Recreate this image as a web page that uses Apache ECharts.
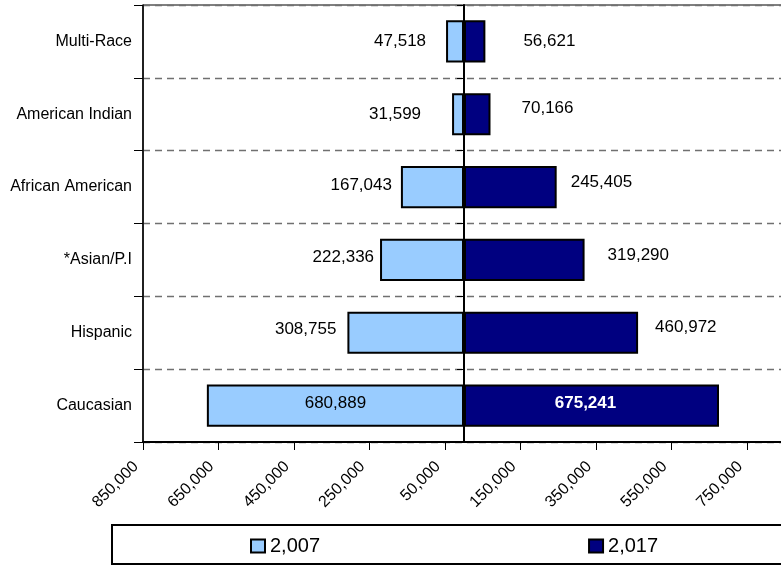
<!DOCTYPE html>
<html>
<head>
<meta charset="utf-8">
<script src="https://cdn.jsdelivr.net/npm/echarts@6/dist/echarts.min.js"></script>
<style>
  html, body { margin: 0; padding: 0; background: #ffffff; }
  #chart { width: 781px; height: 565px; }
</style>
</head>
<body>
<div id="chart"></div>
<script>
// Population by race/ethnicity, 2007 (left) vs 2017 (right)
const categories = ['Caucasian', 'Hispanic', '*Asian/P.I', 'African American', 'American Indian', 'Multi-Race'];
const values2007 = [680889, 308755, 222336, 167043, 31599, 47518];
const values2017 = [675241, 460972, 319290, 245405, 70166, 56621];
const seriesNames = ['2,007', '2,017'];

// Value axis range: ticks run from the left end every 200,000
const axisMin = -850000;
const axisMax = 850000;
const axisStep = 200000;

const FONT = '"Liberation Sans", Arial, sans-serif';

function fmt(v) {
  return String(Math.round(Math.abs(v))).replace(/\B(?=(\d{3})+(?!\d))/g, ',');
}

// Label placement per bar (same order as categories)
const leftLabelStyle = [
  { position: 'inside', offset: [0, -2] },
  { position: 'left', distance: 11, offset: [0, -3] },
  { position: 'left', distance: 6, offset: [0, -3] },
  { position: 'left', distance: 9, offset: [0, -2] },
  { position: 'left', distance: 31, offset: [0, 0] },
  { position: 'left', distance: 20, offset: [0, 0] }
];
const rightLabelStyle = [
  { position: 'inside', offset: [-6, -2], color: '#ffffff', fontWeight: 'bold' },
  { position: 'right', distance: 17, offset: [0, -5] },
  { position: 'right', distance: 23, offset: [0, -5] },
  { position: 'right', distance: 14, offset: [0, -5] },
  { position: 'right', distance: 31, offset: [0, -6] },
  { position: 'right', distance: 38, offset: [0, 0] }
];

const leftData = values2007.map((v, i) => ({
  value: -v,
  label: Object.assign({}, leftLabelStyle[i])
}));
const rightData = values2017.map((v, i) => ({
  value: v,
  label: Object.assign({}, rightLabelStyle[i])
}));

const chart = echarts.init(document.getElementById('chart'), null, { renderer: 'canvas' });

chart.setOption({
  animation: false,
  backgroundColor: '#ffffff',
  textStyle: { fontFamily: FONT },
  grid: {
    left: 143,
    top: 5,
    width: 642,
    height: 437,
    outerBoundsMode: 'none',
    containLabel: false,
    show: true,
    borderColor: '#000000',
    borderWidth: 1
  },
  legend: {
    data: seriesNames,
    left: 250,
    top: 536,
    padding: 0,
    icon: 'rect',
    itemWidth: 14,
    itemHeight: 13,
    itemGap: 268,
    textStyle: { fontSize: 20, color: '#000000', fontFamily: FONT }
  },
  graphic: [{
    type: 'rect',
    silent: true,
    z: -1,
    shape: { x: 112, y: 525, width: 700, height: 39 },
    style: { fill: null, stroke: '#000000', lineWidth: 2 }
  }],
  xAxis: {
    type: 'value',
    min: axisMin,
    max: axisMax,
    interval: axisStep,
    axisLine: { show: true, onZero: false, lineStyle: { color: '#000000', width: 2 } },
    axisTick: { show: true, length: 8, lineStyle: { color: '#000000', width: 1 } },
    axisLabel: {
      rotate: 45,
      fontSize: 16,
      color: '#000000',
      margin: 15,
      padding: [0, 10, 0, 0],
      showMaxLabel: false,
      fontFamily: FONT,
      formatter: v => fmt(v)
    },
    splitLine: { show: false }
  },
  yAxis: [
    {
      type: 'category',
      data: categories,
      axisLine: { show: true, onZero: false, lineStyle: { color: '#000000', width: 1.5 } },
      axisTick: { show: true, length: 9, lineStyle: { color: '#000000', width: 1 } },
      axisLabel: { fontSize: 16, color: '#000000', margin: 11, fontFamily: FONT },
      splitLine: { show: true, lineStyle: { color: '#707070', type: [7, 5], width: 1.3 } }
    },
    {
      type: 'category',
      data: categories,
      position: 'left',
      z: 5,
      axisLine: { show: true, onZero: true, lineStyle: { color: '#000000', width: 2 } },
      axisTick: { show: true, length: 7, lineStyle: { color: '#000000', width: 1 } },
      axisLabel: { show: false },
      splitLine: { show: false }
    }
  ],
  series: [
    {
      name: seriesNames[0],
      type: 'bar',
      stack: 'total',
      yAxisIndex: 0,
      barWidth: '58%',
      data: leftData,
      itemStyle: { color: '#99CCFF', borderColor: '#000000', borderWidth: 2 },
      label: {
        show: true,
        fontSize: 17,
        color: '#000000',
        fontFamily: FONT,
        formatter: p => fmt(p.value)
      }
    },
    {
      name: seriesNames[1],
      type: 'bar',
      stack: 'total',
      yAxisIndex: 0,
      barWidth: '58%',
      data: rightData,
      itemStyle: { color: '#000080', borderColor: '#000000', borderWidth: 2 },
      label: {
        show: true,
        fontSize: 17,
        color: '#000000',
        fontFamily: FONT,
        formatter: p => fmt(p.value)
      }
    }
  ]
});
</script>
</body>
</html>
